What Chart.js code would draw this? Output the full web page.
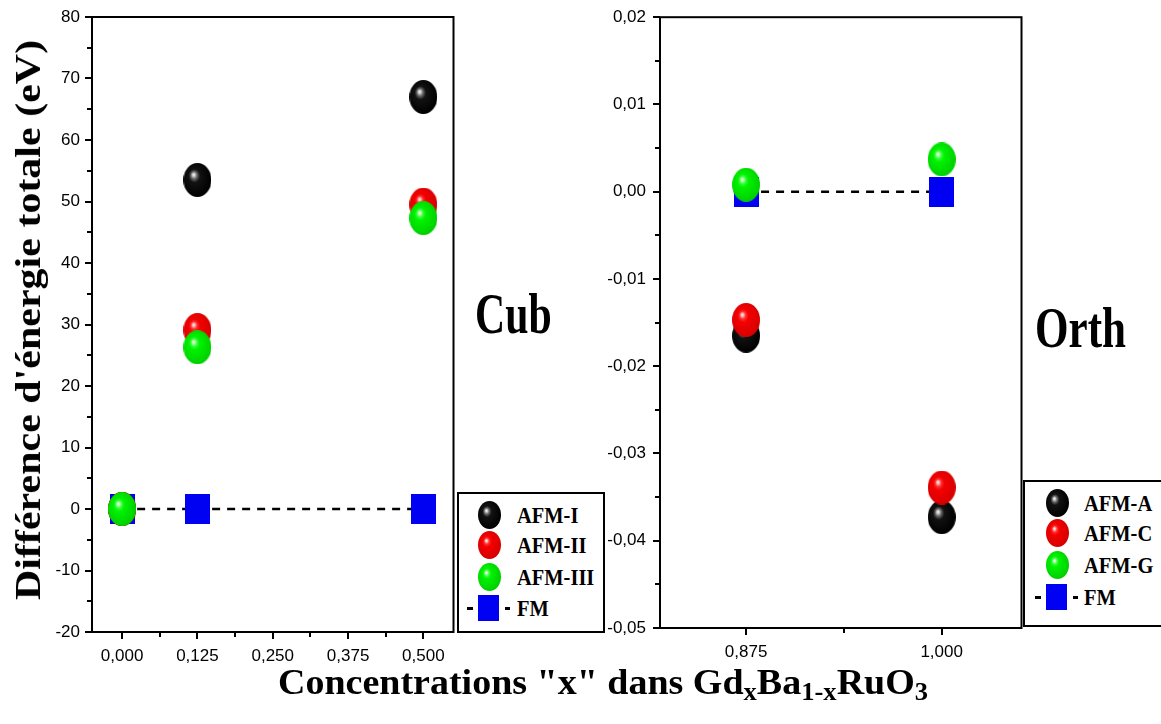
<!DOCTYPE html>
<html>
<head>
<meta charset="utf-8">
<script src="https://cdn.jsdelivr.net/npm/chart.js@4.4.0/dist/chart.umd.min.js"></script>
<style>
  body { margin: 0; background: #fff; width: 1161px; height: 724px; position: relative; overflow: hidden; }
  canvas.panel { position: absolute; top: 0; }
  #cubChart { left: 0; }
  #orthChart { left: 560px; }
  .lbl { position: absolute; font-family: "Liberation Serif", "Times New Roman", serif; font-weight: bold;
         line-height: 1; white-space: nowrap; color: #000; transform-origin: 0 0; }
  .lbl .sub { font-size: 0.7em; position: relative; top: 0.22em; }
  .legend { position: absolute; border: 2px solid #000; background: #fff; box-sizing: border-box; }
  .legend canvas { position: absolute; }
  .legend span { position: absolute; font-family: "Liberation Serif", serif; font-weight: bold; font-size: 23px;
                 line-height: 1; white-space: nowrap; transform: scaleX(0.89); transform-origin: 0 50%; }
</style>
</head>
<body>
<canvas id="cubChart" class="panel" width="470" height="680"></canvas>
<canvas id="orthChart" class="panel" width="478" height="680"></canvas>

<div class="lbl" id="yTitle" style="font-size:42px; left:28px; top:320px; transform-origin:50% 50%; transform: translate(-50%,-50%) rotate(-90deg) scaleY(0.87);">Différence d'énergie totale (eV)</div>
<div class="lbl" style="font-size:38px; left:278px; top:665px; transform: scaleY(0.92);">Concentrations "x" dans Gd<span class="sub">x</span>Ba<span class="sub">1-x</span>RuO<span class="sub">3</span></div>
<div class="lbl" style="font-size:58px; left:475px; top:285px; transform: scaleX(0.72);">Cub</div>
<div class="lbl" style="font-size:56px; left:1035px; top:300px; transform: scaleX(0.77);">Orth</div>

<div class="legend" id="cubLegend" style="left:457px; top:492px; width:148px; height:141px;"></div>
<div class="legend" id="orthLegend" style="left:1023px; top:480px; width:150px; height:147px;"></div>

<script>
// cubic panel (x = 0 ... 0.5)
const cubX = [0, 0.125, 0.5];
const cubAfmI = [0, 53.5, 67.0];
const cubAfmII = [0, 29.1, 49.5];
const cubAfmIII = [0, 26.3, 47.3];
const cubFM = [0, 0, 0];
const cubLabels = ['AFM-I', 'AFM-II', 'AFM-III', 'FM'];
const cubXTicks = [0, 0.125, 0.25, 0.375, 0.5];
const cubXMinor = [0.0625, 0.1875, 0.3125, 0.4375];
const cubYTicks = [-20, -10, 0, 10, 20, 30, 40, 50, 60, 70, 80];
const cubYMinor = [-15, -5, 5, 15, 25, 35, 45, 55, 65, 75];

// orthorhombic panel (x = 0.875, 1)
const orthX = [0.875, 1.0];
const orthAfmA = [-0.0165, -0.0373];
const orthAfmC = [-0.0147, -0.0339];
const orthAfmG = [0.0008, 0.0037];
const orthFM = [0, 0];
const orthLabels = ['AFM-A', 'AFM-C', 'AFM-G', 'FM'];
const orthXTicks = [0.875, 1.0];
const orthXMinor = [0.9375];
const orthYTicks = [-0.05, -0.04, -0.03, -0.02, -0.01, 0, 0.01, 0.02];
const orthYMinor = [-0.045, -0.035, -0.025, -0.015, -0.005, 0.005, 0.015];

const tickFont = { family: '"Liberation Sans", Arial, sans-serif', size: 17 };

// shaded ball markers
const ballColors = {
  black: ['#ffffff', '#d0d0d0', '#666666', '#121212', '#000000'],
  red:   ['#ffffff', '#ffbcbc', '#ff3030', '#f40000', '#d60000'],
  green: ['#ffffff', '#c0ffc0', '#38ff38', '#00f200', '#00d000']
};

function makeBall(w, h, c) {
  const cv = document.createElement('canvas');
  cv.width = w; cv.height = h;
  const g = cv.getContext('2d');
  const r = w / 2;
  g.scale(1, h / w);
  const grad = g.createRadialGradient(r * 0.72, r * 0.68, 0, r * 0.9, r * 0.9, r * 1.1);
  grad.addColorStop(0, c[0]);
  grad.addColorStop(0.08, c[1]);
  grad.addColorStop(0.2, c[2]);
  grad.addColorStop(0.36, c[3]);
  grad.addColorStop(1, c[4]);
  g.fillStyle = grad;
  g.beginPath();
  g.arc(r, r, r, 0, Math.PI * 2);
  g.fill();
  return cv;
}

function makeSquare(w, h) {
  const cv = document.createElement('canvas');
  cv.width = w; cv.height = h;
  const g = cv.getContext('2d');
  g.fillStyle = '#0000f2';
  g.fillRect(0, 0, w, h);
  return cv;
}

const bigBalls = [makeBall(28, 34, ballColors.black), makeBall(28, 34, ballColors.red), makeBall(28, 34, ballColors.green)];
const bigSquare = makeSquare(25, 30);

function pts(xs, ys) {
  return xs.map((x, i) => ({ x, y: ys[i] }));
}

function fmt(v, dec) {
  return dec === 0 ? String(Math.round(v)) : v.toFixed(dec).replace('.', ',');
}

// box frame + minor ticks
const frameMinor = {
  id: 'frameMinor',
  afterDraw(chart, args, opts) {
    const { ctx, chartArea: a } = chart;
    const x = chart.scales.x, y = chart.scales.y;
    ctx.save();
    ctx.strokeStyle = '#000';
    ctx.lineWidth = 2;
    ctx.strokeRect(a.left, a.top, a.right - a.left, a.bottom - a.top);
    ctx.beginPath();
    opts.xMinor.forEach(v => {
      const px = Math.round(x.getPixelForValue(v));
      ctx.moveTo(px, a.bottom);
      ctx.lineTo(px, a.bottom + 5);
    });
    opts.yMinor.forEach(v => {
      const py = Math.round(y.getPixelForValue(v));
      ctx.moveTo(a.left, py);
      ctx.lineTo(a.left - 5, py);
    });
    ctx.stroke();
    ctx.restore();
  }
};

function makeDatasets(xs, series, fm) {
  const ds = series.map((vals, i) => ({
    data: pts(xs, vals),
    pointStyle: bigBalls[i],
    pointRadius: 14,
    order: 3 - i,
    showLine: false
  }));
  ds.push({
    data: pts(xs, fm),
    pointStyle: bigSquare,
    pointRadius: 14,
    order: 10,
    showLine: true,
    borderColor: '#000',
    borderWidth: 2.5,
    borderDash: [8, 7]
  });
  return ds;
}

function panel(canvasId, p) {
  return new Chart(document.getElementById(canvasId), {
    type: 'scatter',
    data: { datasets: makeDatasets(p.xs, p.series, p.fm) },
    options: {
      responsive: false,
      animation: false,
      events: [],
      layout: { padding: { top: p.padTop, right: p.padRight, left: 0, bottom: 0 } },
      plugins: {
        legend: { display: false },
        tooltip: { enabled: false },
        frameMinor: { xMinor: p.xMinor, yMinor: p.yMinor }
      },
      scales: {
        x: {
          type: 'linear', min: p.xMin, max: p.xMax,
          afterBuildTicks: s => { s.ticks = p.xTicks.map(v => ({ value: v })); },
          afterFit: s => { s.height = p.xAxisH; },
          grid: { drawOnChartArea: false, color: '#000', lineWidth: 2, tickLength: 7 },
          border: { display: false },
          ticks: { color: '#000', font: tickFont, padding: 7, maxRotation: 0, autoSkip: false,
                   callback: v => fmt(v, 3) }
        },
        y: {
          type: 'linear', min: p.yMin, max: p.yMax,
          afterBuildTicks: s => { s.ticks = p.yTicks.map(v => ({ value: v })); },
          afterFit: s => { s.width = p.yAxisW; },
          grid: { drawOnChartArea: false, color: '#000', lineWidth: 2, tickLength: 7 },
          border: { display: false },
          ticks: { color: '#000', font: tickFont, padding: p.yPad, autoSkip: false,
                   callback: v => fmt(v, p.yDec) }
        }
      }
    },
    plugins: [frameMinor]
  });
}

panel('cubChart', {
  xs: cubX, series: [cubAfmI, cubAfmII, cubAfmIII], fm: cubFM,
  xMin: -0.05, xMax: 0.55, yMin: -20, yMax: 80,
  xTicks: cubXTicks, yTicks: cubYTicks, xMinor: cubXMinor, yMinor: cubYMinor,
  yDec: 0, yAxisW: 92, xAxisH: 48, padTop: 17, padRight: 8, yPad: 5
});

panel('orthChart', {
  xs: orthX, series: [orthAfmA, orthAfmC, orthAfmG], fm: orthFM,
  xMin: 0.82, xMax: 1.051, yMin: -0.05, yMax: 0.02,
  xTicks: orthXTicks, yTicks: orthYTicks, xMinor: orthXMinor, yMinor: orthYMinor,
  yDec: 2, yAxisW: 100, xAxisH: 52, padTop: 13, padRight: 8, yPad: 7
});

// legends
function buildLegend(id, labels, rows, markX, textX) {
  const box = document.getElementById(id);
  const marks = [makeBall(23, 28, ballColors.black), makeBall(23, 28, ballColors.red), makeBall(23, 28, ballColors.green)];
  labels.forEach((txt, i) => {
    const cy = rows[i];
    let m;
    if (i < 3) {
      m = marks[i];
    } else {
      // dash - square - dash
      m = document.createElement('canvas');
      m.width = 44; m.height = 26;
      const g = m.getContext('2d');
      g.fillStyle = '#000';
      g.fillRect(0, 12, 6, 3);
      g.fillRect(38, 12, 5, 3);
      g.fillStyle = '#0000f2';
      g.fillRect(11, 0, 21, 26);
    }
    m.style.left = (markX - m.width / 2) + 'px';
    m.style.top = (cy - m.height / 2) + 'px';
    box.appendChild(m);
    const s = document.createElement('span');
    s.textContent = txt;
    s.style.left = textX + 'px';
    s.style.top = (cy - 11.5) + 'px';
    box.appendChild(s);
  });
}

buildLegend('cubLegend', cubLabels, [21, 51, 83, 114], 30, 58);
buildLegend('orthLegend', orthLabels, [21, 51, 83, 115], 32, 59);
</script>
</body>
</html>
